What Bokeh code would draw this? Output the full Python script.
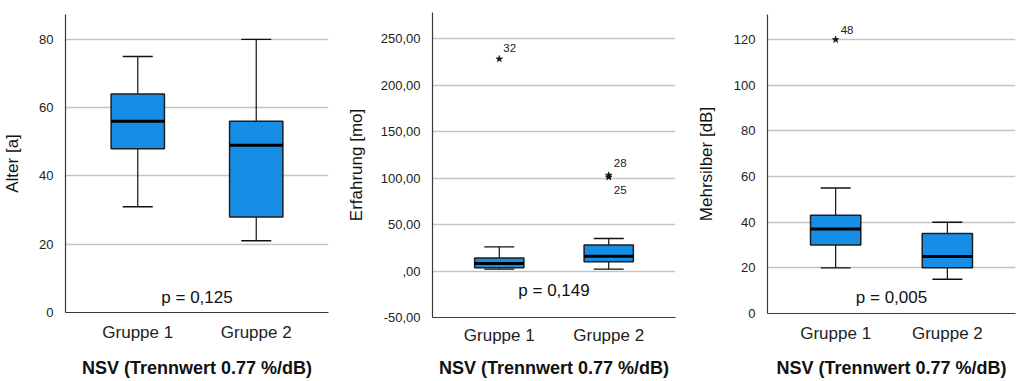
from bokeh.plotting import figure
from bokeh.layouts import row, column
from bokeh.models import Range1d, FixedTicker
from bokeh.core.properties import value
from bokeh.embed import file_html
from bokeh.resources import INLINE
import numpy as np

# ---------------- data ----------------
groups = ["Gruppe 1", "Gruppe 2"]
group_pos = [1, 2]
xlabel = "NSV (Trennwert 0.77 %/dB)"

# Alter [a]
alter_lo = [31, 21]
alter_q1 = [48, 28]
alter_med = [56, 49]
alter_q3 = [64, 56]
alter_hi = [75, 80]
alter_p = "p = 0,125"
alter_ticks = [0, 20, 40, 60, 80]
alter_tick_labels = ["0", "20", "40", "60", "80"]

# Erfahrung [mo]
erf_lo = [2, 2]
erf_q1 = [3.5, 10]
erf_med = [8, 16]
erf_q3 = [14, 28]
erf_hi = [26, 35]
erf_out_group = [1, 2, 2]
erf_out_val = [228, 103, 101]
erf_out_id = ["32", "28", "25"]
erf_p = "p = 0,149"
erf_ticks = [-50, 0, 50, 100, 150, 200, 250]
erf_tick_labels = ["-50,00", ",00", "50,00", "100,00", "150,00", "200,00", "250,00"]

# Mehrsilber [dB]
mehr_lo = [20, 15]
mehr_q1 = [30, 20]
mehr_med = [37, 25]
mehr_q3 = [43, 35]
mehr_hi = [55, 40]
mehr_out_group = [1]
mehr_out_val = [120]
mehr_out_id = ["48"]
mehr_p = "p = 0,005"
mehr_ticks = [0, 20, 40, 60, 80, 100, 120]
mehr_tick_labels = ["0", "20", "40", "60", "80", "100", "120"]

# ---------------- style ----------------
FONT = "Liberation Sans"
BOX_FILL = "#168ee6"
BOX_LINE = "#1e1e1e"
GRID = "#c4c4c4"
BW = 0.45
CAP_PX = 30


def make_panel(width, ylabel, ymin, ymax, ticks, tick_labels,
               lo, q1, med, q3, hi, ptext, p_y,
               out_g=None, out_v=None, out_id=None, out_offsets=None,
               border_left=64, border_right=10, border_top=14, border_bottom=69,
               ylabel_standoff=14, xtick_standoff=4, xlabel_standoff=14):
    p = figure(width=width, height=381, output_backend="svg", toolbar_location=None,
               x_range=Range1d(0.39, 2.61), y_range=Range1d(ymin, ymax),
               min_border_left=border_left, min_border_right=border_right,
               min_border_top=border_top, min_border_bottom=border_bottom)
    p.outline_line_color = None
    p.background_fill_color = "white"
    p.border_fill_color = "white"

    # axes
    p.xaxis.ticker = FixedTicker(ticks=group_pos)
    p.xaxis.major_label_overrides = {k: v for k, v in zip(group_pos, groups)}
    p.yaxis.ticker = FixedTicker(ticks=ticks)
    p.yaxis.major_label_overrides = {k: v for k, v in zip(ticks, tick_labels)}
    for ax in (p.xaxis[0], p.yaxis[0]):
        ax.major_tick_line_color = None
        ax.minor_tick_line_color = None
        ax.axis_line_color = "#3a3a3a"
        ax.axis_line_width = 1.2
        ax.major_label_text_font = FONT
        ax.axis_label_text_font = FONT
        ax.major_label_text_color = "#222222"
        ax.axis_label_text_color = "#111111"
    p.yaxis.major_label_text_font_size = "13px"
    p.yaxis.major_label_standoff = 6
    p.yaxis.axis_label = ylabel
    p.yaxis.axis_label_text_font_size = "17px"
    p.yaxis.axis_label_text_font_style = "normal"
    p.yaxis.axis_label_standoff = ylabel_standoff
    p.xaxis.major_label_text_font_size = "17px"
    p.xaxis.major_label_standoff = xtick_standoff
    p.xaxis.axis_label = xlabel
    p.xaxis.axis_label_text_font_size = "18px"
    p.xaxis.axis_label_text_font_style = "bold"
    p.xaxis.axis_label_standoff = xlabel_standoff

    p.xgrid.grid_line_color = None
    p.ygrid.ticker = FixedTicker(ticks=ticks)
    p.ygrid.grid_line_color = GRID
    p.ygrid.grid_line_width = 1.3

    x = np.array(group_pos, dtype=float)
    # whiskers
    p.segment(x0=x, y0=np.array(q3), x1=x, y1=np.array(hi), line_color="#111111", line_width=1.2)
    p.segment(x0=x, y0=np.array(q1), x1=x, y1=np.array(lo), line_color="#111111", line_width=1.2)
    # caps
    p.scatter(x=x, y=hi, marker="dash", size=CAP_PX, line_color="#111111", line_width=1.4)
    p.scatter(x=x, y=lo, marker="dash", size=CAP_PX, line_color="#111111", line_width=1.4)
    # boxes
    p.vbar(x=x, width=BW, bottom=q1, top=q3, fill_color=BOX_FILL,
           line_color=BOX_LINE, line_width=1.5)
    # medians
    p.segment(x0=x - BW / 2, y0=med, x1=x + BW / 2, y1=med, line_color="#000000", line_width=3)

    # outliers
    if out_g is not None:
        p.scatter(x=out_g, y=out_v, marker="star", size=7, fill_color="#111111",
                  line_color="#111111", line_width=0.6)
        for g, v, lab, (dx, dy) in zip(out_g, out_v, out_id, out_offsets):
            p.text(x=[g], y=[v], text=[lab], x_offset=dx, y_offset=dy,
                   text_font=value(FONT), text_font_size="11.5px", text_color="#222222",
                   text_align="left", text_baseline="middle")

    # p-value
    p.text(x=[1.5], y=[p_y], text=[ptext], text_font=value(FONT), text_font_size="17px",
           text_color="#111111", text_align="center", text_baseline="middle")
    return p


p1 = make_panel(340, "Alter [a]", 0, 87.3, alter_ticks, alter_tick_labels,
                alter_lo, alter_q1, alter_med, alter_q3, alter_hi, alter_p, 4.4,
                border_left=64, border_right=12, border_top=14, border_bottom=69,
                ylabel_standoff=14, xtick_standoff=4, xlabel_standoff=13)

p2 = make_panel(340, "Erfahrung [mo]", -50, 278, erf_ticks, erf_tick_labels,
                erf_lo, erf_q1, erf_med, erf_q3, erf_hi, erf_p, -21.5,
                out_g=erf_out_group, out_v=erf_out_val, out_id=erf_out_id,
                out_offsets=[(4, -11), (5, -12), (5, 13)],
                border_left=92, border_right=5, border_top=12, border_bottom=64,
                ylabel_standoff=12, xtick_standoff=2, xlabel_standoff=10)

p3 = make_panel(336, "Mehrsilber [dB]", 0, 131, mehr_ticks, mehr_tick_labels,
                mehr_lo, mehr_q1, mehr_med, mehr_q3, mehr_hi, mehr_p, 7,
                out_g=mehr_out_group, out_v=mehr_out_val, out_id=mehr_out_id,
                out_offsets=[(5, -10)],
                border_left=87, border_right=1, border_top=14, border_bottom=68,
                ylabel_standoff=15, xtick_standoff=4, xlabel_standoff=12)

layout = row(column(p1), column(p2), column(p3), spacing=0)
open("out.html", "w").write(file_html(layout, INLINE))
